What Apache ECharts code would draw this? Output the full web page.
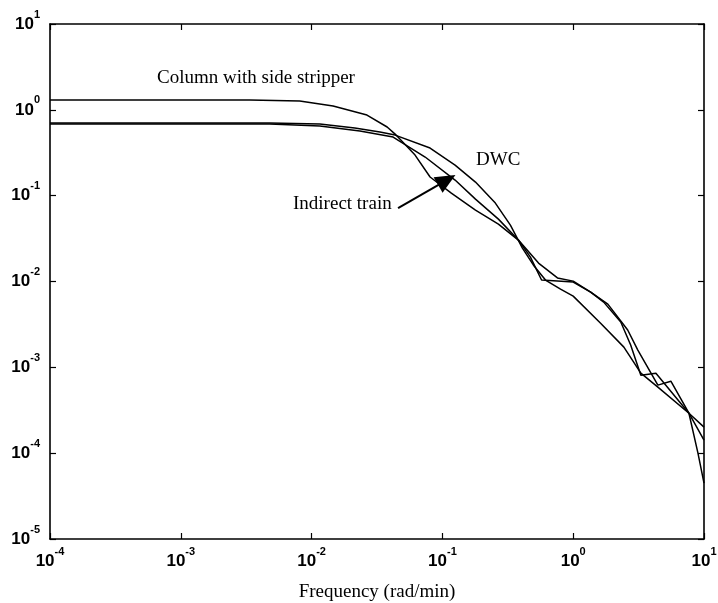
<!DOCTYPE html>
<html><head><meta charset="utf-8">
<script src="https://cdn.jsdelivr.net/npm/echarts@6/dist/echarts.min.js"></script>
<style>html,body{margin:0;padding:0;background:#fff}#c{width:718px;height:603px}</style>
</head><body><div id="c"></div>
<script>
// Axis ranges / tick labels
const xMin = 1e-4, xMax = 10;
const yMin = 1e-5, yMax = 10;
const xTickExponents = ['-4','-3','-2','-1','0','1'];
const yTickExponents = ['-5','-4','-3','-2','-1','0','1'];
const xAxisTitle = 'Frequency (rad/min)';

// Column with side stripper
const cssFreq = [0.0001, 0.00336, 0.00811, 0.0146, 0.0265, 0.0378, 0.0435, 0.0618, 0.0805, 0.117, 0.179, 0.268, 0.381, 0.471, 0.573, 1.0, 1.36, 1.84, 2.61, 3.12, 4.44, 5.58, 7.67, 8.99, 10];
const cssMag  = [1.30, 1.30, 1.27, 1.11, 0.869, 0.631, 0.522, 0.297, 0.165, 0.107, 0.0679, 0.0467, 0.0304, 0.0192, 0.0104, 0.00984, 0.00752, 0.00545, 0.00272, 0.00159, 0.000621, 0.00069, 0.000292, 0.0001, 0.0000447];

// DWC
const dwcFreq = [0.0001, 0.00477, 0.01156, 0.0214, 0.0333, 0.0435, 0.0805, 0.125, 0.179, 0.254, 0.331, 0.409, 0.497, 0.614, 0.80, 1.0, 1.62, 2.44, 3.29, 4.44, 7.67, 10];
const dwcMag  = [0.702, 0.702, 0.683, 0.614, 0.551, 0.508, 0.359, 0.227, 0.144, 0.082, 0.0454, 0.0245, 0.0155, 0.0104, 0.00815, 0.00676, 0.00327, 0.00172, 0.000855, 0.000588, 0.000292, 0.000201];

// Indirect train
const indFreq = [0.0001, 0.00477, 0.01156, 0.0234, 0.042, 0.0738, 0.125, 0.179, 0.268, 0.381, 0.543, 0.758, 1.0, 1.36, 1.71, 2.31, 2.75, 3.29, 4.29, 7.67, 10];
const indMag  = [0.683, 0.683, 0.647, 0.566, 0.482, 0.282, 0.152, 0.0912, 0.0533, 0.0304, 0.0164, 0.011, 0.0101, 0.00752, 0.00575, 0.00337, 0.00182, 0.000811, 0.000855, 0.000292, 0.000142];

// Annotations (data coordinates)
const labelCSS = {text: 'Column with side stripper', x: 0.000658, y: 2.35};
const labelDWC = {text: 'DWC', x: 0.1807, y: 0.26};
const labelInd = {text: 'Indirect train', x: 0.00721, y: 0.080};
const arrowFrom = [0.0458, 0.0716];
const arrowTo = [0.108, 0.152];

const zip = (a, b) => a.map((v, i) => [v, b[i]]);
const black = '#000';

function expFmt(list, min) {
  return function (v) {
    const i = Math.round(Math.log10(v) - Math.log10(min));
    return '{b|10}{e|' + list[i] + '}';
  };
}
const rich = {
  b: {fontSize: 17, fontFamily: 'Liberation Sans', fontWeight: 'bold', color: black, lineHeight: 30, verticalAlign: 'middle'},
  e: {fontSize: 11, fontFamily: 'Liberation Sans', fontWeight: 'bold', color: black, lineHeight: 11, verticalAlign: 'top'}
};

const axisCommon = {
  type: 'log', logBase: 10,
  axisLine: {show: true, onZero: false, lineStyle: {color: black, width: 1.6}},
  axisTick: {show: true, inside: true, length: 6, lineStyle: {color: black, width: 1.2}},
  splitLine: {show: false},
  minorTick: {show: false}
};

const chart = echarts.init(document.getElementById('c'), null, {renderer: 'canvas'});
const lineSeries = (name, f, m, extra) => Object.assign({
  name, type: 'line', data: zip(f, m), showSymbol: false, symbol: 'none',
  lineStyle: {color: black, width: 1.5}, itemStyle: {color: black},
  silent: true, animation: false, z: 3
}, extra || {});

chart.setOption({
  animation: false,
  backgroundColor: '#fff',
  grid: {left: 50, right: 14, top: 24, bottom: 64, containLabel: false, outerBoundsMode: 'none'},
  xAxis: [
    Object.assign({}, axisCommon, {min: xMin, max: xMax, position: 'bottom',
      name: xAxisTitle, nameLocation: 'middle', nameGap: 44,
      nameTextStyle: {fontFamily: 'Liberation Serif', fontSize: 19, color: black},
      axisLabel: {margin: 7, formatter: expFmt(xTickExponents, xMin), rich: rich}}),
    Object.assign({}, axisCommon, {min: xMin, max: xMax, position: 'top', axisLabel: {show: false}})
  ],
  yAxis: [
    Object.assign({}, axisCommon, {min: yMin, max: yMax, position: 'left',
      axisLabel: {margin: 10, formatter: expFmt(yTickExponents, yMin), rich: rich}}),
    Object.assign({}, axisCommon, {min: yMin, max: yMax, position: 'right', axisLabel: {show: false}})
  ],
  series: [
    lineSeries('Column with side stripper', cssFreq, cssMag, {
      markLine: {
        silent: true, symbol: ['none', 'triangle'], symbolSize: [18, 20],
        label: {show: false},
        lineStyle: {color: black, width: 2, type: 'solid'},
        itemStyle: {color: black},
        data: [[{coord: arrowFrom}, {coord: arrowTo}]]
      }
    }),
    lineSeries('DWC', dwcFreq, dwcMag),
    lineSeries('Indirect train', indFreq, indMag)
  ]
});

const anns = [labelCSS, labelDWC, labelInd];
chart.setOption({
  graphic: anns.map(a => {
    const p = chart.convertToPixel({xAxisIndex: 0, yAxisIndex: 0}, [a.x, a.y]);
    return {type: 'text', x: p[0], y: p[1], silent: true,
      style: {text: a.text, font: '19px "Liberation Serif"', fill: black, textVerticalAlign: 'middle', verticalAlign: 'middle'}};
  })
});
</script></body></html>
